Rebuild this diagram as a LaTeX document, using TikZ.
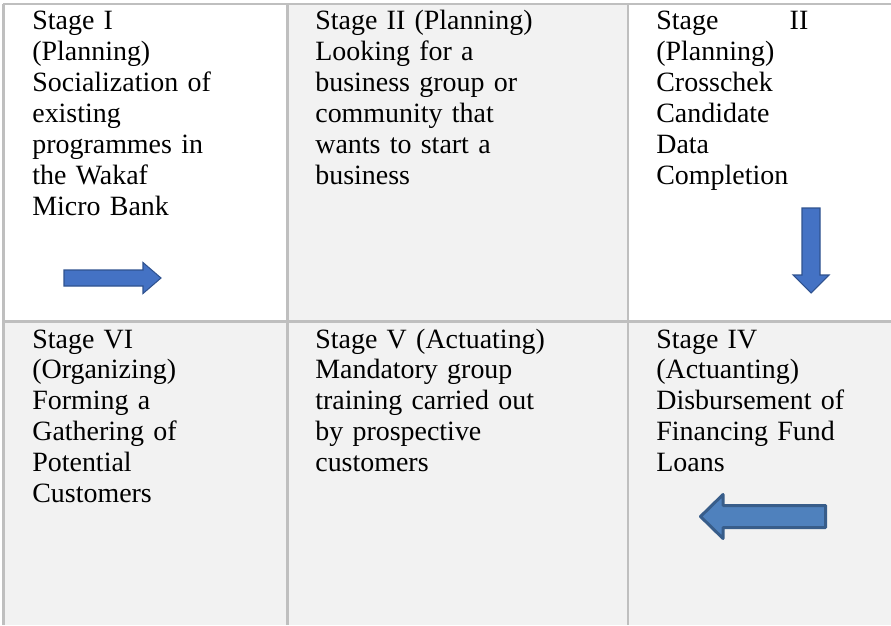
\documentclass[tikz,border=0pt]{standalone}
\usepackage{fontspec}
\setmainfont{Liberation Serif}
\usepackage{tikz}
\usetikzlibrary{positioning}
\definecolor{gridgray}{HTML}{BFBFBF}
\definecolor{cellshade}{HTML}{F2F2F2}
\definecolor{arrowblue}{HTML}{4472C4}
\definecolor{arrowedge}{HTML}{2F528F}
\definecolor{oldblue}{HTML}{4F81BD}
\definecolor{oldedge}{HTML}{385D8A}

\begin{document}
\begin{tikzpicture}[
    x=0.02cm, y=-0.02cm,
    stagetext/.style={anchor=base west, inner sep=0pt, text width=#1, align=left, font=\fontsize{15.9pt}{17.6pt}\selectfont},
    stagetext/.default=5.4cm,
    gridline/.style={draw=gridgray, line width=1.15pt},
    flatarrow/.style={fill=arrowblue, draw=arrowedge, line width=0.6pt},
    roundarrow/.style={fill=oldblue, draw=oldedge, line width=1.7pt, line join=round},
]
\useasboundingbox (0,0) rectangle (891,625);
\fill[white] (0,0) rectangle (891,625);

% shaded cells
\fill[cellshade] (287.5,4) rectangle (627.5,321.5);
\fill[cellshade] (3.5,321.5) rectangle (891,625);

% table rules
\draw[gridline] (3,4) -- (891,4);
\draw[gridline] (3,321.5) -- (891,321.5);
\draw[gridline] (3.5,4) -- (3.5,625);
\draw[gridline] (287.5,4) -- (287.5,625);
\draw[gridline] (627.5,4) -- (627.5,625);

% top row
\node[stagetext] (st1) at (32,30) {Stage I\\(Planning)\\Socialization of\\existing\\programmes in\\the Wakaf\\Micro Bank};
\node[stagetext] (st2) at (315,30) {Stage II (Planning)\\Looking for a\\business group or\\community that\\wants to start a\\business};
\node[stagetext=3.04cm] (st3) at (656,30) {Stage\hfill II\\(Planning)\\Crosschek\\Candidate\\Data\\Completion};

% bottom row
\node[stagetext] (st6) at (32,348) {Stage VI\\(Organizing)\\Forming a\\Gathering of\\Potential\\Customers};
\node[stagetext] (st5) at (315,348) {Stage V (Actuating)\\Mandatory group\\training carried out\\by prospective\\customers};
\node[stagetext] (st4) at (656,348) {Stage IV\\(Actuanting)\\Disbursement of\\Financing Fund\\Loans};

% block arrows
\draw[flatarrow] (64,270) -- (143,270) -- (143,262.5) -- (161,278) -- (143,293.5) -- (143,286) -- (64,286) -- cycle;
\draw[flatarrow] (802,208) -- (820,208) -- (820,275) -- (829,275) -- (811,293) -- (793,275) -- (802,275) -- cycle;
\draw[roundarrow] (825.5,505.5) -- (723,505.5) -- (723,494.5) -- (700.5,516.5) -- (723,538.5) -- (723,527.5) -- (825.5,527.5) -- cycle;
\end{tikzpicture}
\end{document}
